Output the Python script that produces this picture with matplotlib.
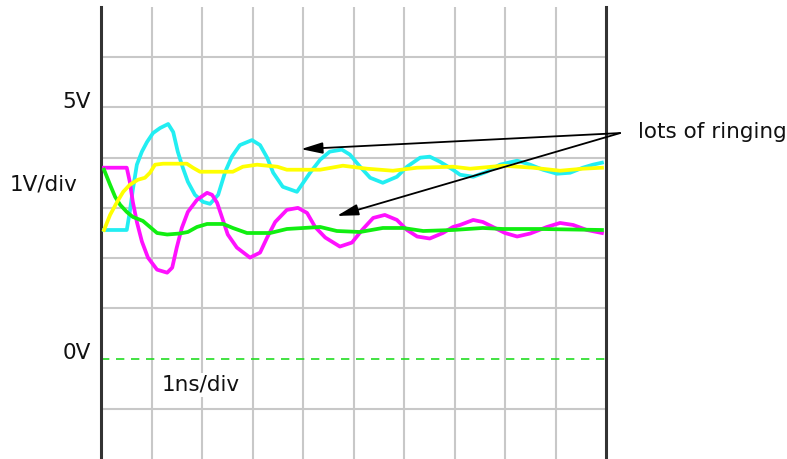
"""Oscilloscope-style view of four signals ringing after a fast edge."""

import matplotlib

matplotlib.use("Agg")
import matplotlib.pyplot as plt

plt.rcParams.update(
    {
        "font.family": "sans-serif",
        "font.sans-serif": ["DejaVu Sans"],
        "figure.facecolor": "white",
    }
)

W, H = 787, 459

# time in ns, voltage in V
cyan_t = [0.06, 0.51, 0.57, 0.63, 0.71, 0.81, 0.91, 1.03, 1.17, 1.33, 1.43, 1.52,
          1.62, 1.72, 1.86, 2.02, 2.16, 2.32, 2.46, 2.59, 2.75, 2.99, 3.15, 3.29,
          3.41, 3.60, 3.88, 4.14, 4.34, 4.53, 4.77, 4.93, 5.13, 5.33, 5.58, 5.86,
          6.06, 6.32, 6.51, 6.71, 6.97, 7.11, 7.37, 7.64, 7.90, 8.24, 8.50, 8.75,
          9.03, 9.29, 9.54, 9.74, 9.92]
cyan_v = [2.56, 2.56, 2.92, 3.36, 3.86, 4.12, 4.31, 4.49, 4.59, 4.67, 4.51, 4.12,
          3.80, 3.52, 3.26, 3.12, 3.08, 3.26, 3.72, 4.02, 4.25, 4.35, 4.25, 4.00,
          3.70, 3.42, 3.32, 3.70, 3.96, 4.12, 4.16, 4.06, 3.82, 3.60, 3.50, 3.62,
          3.82, 4.00, 4.02, 3.92, 3.76, 3.66, 3.62, 3.72, 3.86, 3.94, 3.86, 3.76,
          3.68, 3.70, 3.80, 3.86, 3.90]

yellow_t = [0.06, 0.18, 0.32, 0.44, 0.57, 0.73, 0.87, 0.97, 1.07, 1.23, 1.70, 1.82,
            1.96, 2.61, 2.81, 3.09, 3.49, 3.68, 4.14, 4.34, 4.79, 5.27, 5.78, 6.26,
            6.97, 7.31, 7.96, 8.55, 9.09, 9.54, 9.92]
yellow_v = [2.56, 2.86, 3.12, 3.32, 3.46, 3.56, 3.60, 3.70, 3.86, 3.88, 3.88, 3.80,
            3.72, 3.72, 3.82, 3.86, 3.82, 3.76, 3.76, 3.76, 3.84, 3.78, 3.74, 3.80,
            3.82, 3.78, 3.84, 3.80, 3.74, 3.78, 3.80]

magenta_t = [0.06, 0.51, 0.57, 0.63, 0.71, 0.81, 0.93, 1.11, 1.31, 1.41, 1.50, 1.60,
             1.72, 1.90, 2.10, 2.20, 2.30, 2.40, 2.51, 2.69, 2.95, 3.15, 3.29, 3.45,
             3.68, 3.90, 4.08, 4.24, 4.44, 4.73, 4.97, 5.17, 5.39, 5.62, 5.86, 6.06,
             6.26, 6.51, 6.77, 6.97, 7.11, 7.37, 7.56, 7.76, 8.00, 8.24, 8.50, 8.83,
             9.09, 9.35, 9.62, 9.92]
magenta_v = [3.80, 3.80, 3.52, 3.12, 2.72, 2.33, 2.01, 1.77, 1.71, 1.81, 2.21, 2.60,
             2.92, 3.16, 3.30, 3.26, 3.10, 2.80, 2.47, 2.21, 2.01, 2.11, 2.41, 2.72,
             2.96, 3.00, 2.90, 2.62, 2.41, 2.23, 2.31, 2.56, 2.80, 2.86, 2.76, 2.56,
             2.43, 2.39, 2.50, 2.62, 2.66, 2.76, 2.72, 2.62, 2.50, 2.43, 2.49, 2.62,
             2.70, 2.66, 2.56, 2.50]

green_t = [0.06, 0.18, 0.28, 0.38, 0.51, 0.63, 0.83, 0.97, 1.11, 1.31, 1.56, 1.72,
           1.90, 2.10, 2.42, 2.61, 2.89, 3.35, 3.68, 4.34, 4.67, 5.13, 5.58, 5.98,
           6.38, 6.97, 7.56, 7.96, 8.69, 9.92]
green_v = [3.76, 3.46, 3.22, 3.06, 2.92, 2.82, 2.74, 2.62, 2.50, 2.47, 2.49, 2.52,
           2.62, 2.68, 2.68, 2.60, 2.50, 2.50, 2.58, 2.62, 2.54, 2.52, 2.60, 2.60,
           2.54, 2.56, 2.60, 2.58, 2.58, 2.56]

# arrow targets for the annotation (ns, V)
ring_tips = [(3.96, 4.17), (4.67, 2.84)]
ring_src = (10.28, 4.49)

fig = plt.figure(figsize=(W / 100, H / 100), dpi=100)
ax = fig.add_axes([101 / W, 0, 505 / W, 452 / H])
ax.set_xlim(0, 10)
ax.set_ylim(-2, 7)

grid_c = "#c8c8c8"
for x in range(1, 10):
    ax.axvline(x, color=grid_c, lw=1.5, zorder=1)
for y in [-1, 1, 2, 3, 4, 5, 6]:
    ax.axhline(y, color=grid_c, lw=1.5, zorder=1)
ax.axhline(0, color="#22dd22", lw=1.2, ls=(0, (5, 4)), zorder=2)

ax.plot(cyan_t, cyan_v, color="#22eef2", lw=2.7, zorder=3)
ax.plot(magenta_t, magenta_v, color="#ff11ff", lw=2.7, zorder=3)
ax.plot(green_t, green_v, color="#11ee11", lw=2.7, zorder=4)
ax.plot(yellow_t, yellow_v, color="#ffff00", lw=2.7, zorder=5)

ax.set_xticks([])
ax.set_yticks([])
for side in ("top", "bottom"):
    ax.spines[side].set_visible(False)
for side in ("left", "right"):
    ax.spines[side].set_linewidth(2.2)
    ax.spines[side].set_color("#333333")

for tip in ring_tips:
    ax.annotate(
        "",
        xy=tip,
        xytext=ring_src,
        arrowprops=dict(
            arrowstyle="-|>,head_length=0.65,head_width=0.17",
            mutation_scale=20,
            color="black",
            lw=1.3,
            shrinkA=0,
            shrinkB=0,
        ),
        annotation_clip=False,
        zorder=6,
    )


def label(px, py, s, ha="left", **kw):
    fig.text(px / W, 1 - py / H, s, ha=ha, va="center", fontsize=15.5,
             color="#111111", **kw)


label(91, 102, "5V", ha="right")
label(10, 185, "1V/div")
label(91, 353, "0V", ha="right")
label(162, 385, "1ns/div",
      bbox=dict(facecolor="white", edgecolor="none", pad=1.5), zorder=7)
label(638, 132, "lots of ringing")

fig.savefig("out.png", dpi=100)
